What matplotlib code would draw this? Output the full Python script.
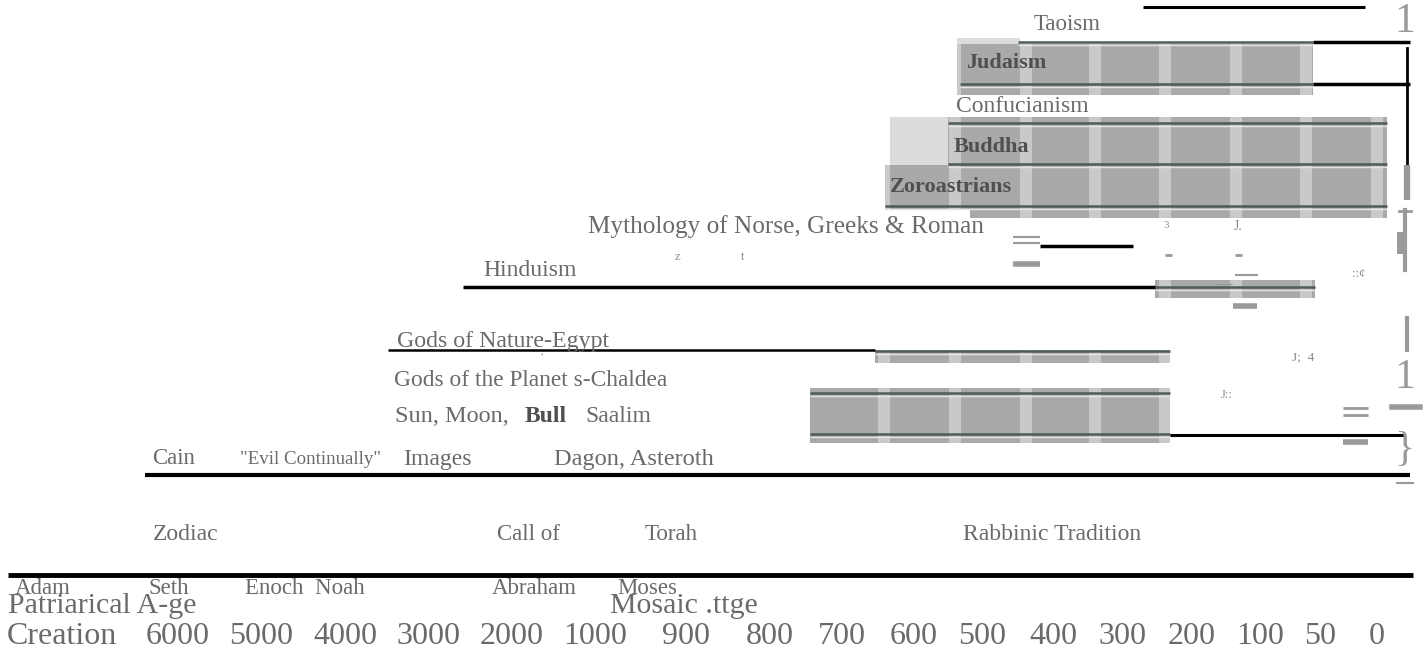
import matplotlib
matplotlib.use("Agg")
import matplotlib.pyplot as plt
from matplotlib.patches import Rectangle

# ---------------- data ----------------
# timeline axis (labels and their place along the timeline, in timeline units)
tick_labels = ["Creation", "6000", "5000", "4000", "3000", "2000", "1000", "900", "800",
               "700", "600", "500", "400", "300", "200", "100", "50", "0"]
tick_pos = [62, 178, 261, 345, 428, 512, 595, 686, 770, 842, 914, 982, 1053, 1122, 1192, 1260, 1320, 1377]

# shaded religion bands: start, end along timeline; top, bottom rows
band_start = [957, 948, 885, 970, 1155, 875, 810]
band_end = [1313, 1387, 1387, 1387, 1315, 1170, 1170]
band_top = [44, 117, 165, 209, 280, 350, 388]
band_bottom = [95, 165, 210, 218, 298, 363, 443]

# pale lead-in parts of bands
pale_start = [957, 890]
pale_end = [1020, 948]
pale_top = [38, 117]
pale_bottom = [47, 165]

# dark rule lines inside bands (start, end, row)
rule_start = [1018, 960, 948, 948, 885, 1155, 875, 810, 810]
rule_end = [1313, 1313, 1387, 1387, 1387, 1315, 1170, 1170, 1170]
rule_y = [42, 84, 123, 164, 206, 287, 351, 393, 434]

# black span lines (start, end, row)
span_start = [1143, 1313, 1313, 1040, 463, 388, 1170, 145, 8]
span_end = [1365, 1410, 1410, 1133, 1155, 875, 1405, 1410, 1413]
span_y = [7, 42, 84, 246, 287, 350, 435, 475, 575]
span_w = [2.2, 2.5, 2.5, 2.5, 2.5, 1.8, 2.2, 3.0, 3.5]

# light vertical stripes inside the bands
stripe_x = [884, 955, 1026, 1095, 1165, 1236, 1306, 1377]

# labels: text, x, y, size, bold
labels = [
    ("Taoism", 1034, 25, 16.5, False),
    ("Judaism", 966, 63, 16, True),
    ("Confucianism", 956, 106, 17, False),
    ("Buddha", 954, 147, 16, True),
    ("Zoroastrians", 890, 187, 16, True),
    ("Mythology of Norse, Greeks & Roman", 588, 227, 18.2, False),
    ("Hinduism", 483, 271, 17, False),
    ("Gods of Nature-Egypt", 397, 341, 17.2, False),
    ("Gods of the Planet s-Chaldea", 394, 380, 16.8, False),
    ("Sun, Moon,", 395, 417, 17.5, False),
    ("Bull", 525, 417, 17, True),
    ("Saalim", 585, 417, 17, False),
    ("Cain", 152, 459, 16.5, False),
    ('"Evil Continually"', 240, 460, 13.6, False),
    ("Images", 403, 459, 17, False),
    ("Dagon, Asteroth", 554, 459, 17.6, False),
    ("Zodiac", 153, 535, 17, False),
    ("Call of", 497, 535, 16.5, False),
    ("Torah", 645, 535, 16.5, False),
    ("Rabbinic Tradition", 963, 535, 17, False),
    ("Adam", 15, 589, 16.5, False),
    ("Seth", 148, 589, 16.5, False),
    ("Enoch  Noah", 245, 589, 16.5, False),
    ("Abraham", 492, 589, 16.5, False),
    ("Moses", 617, 589, 16.5, False),
    ("Patriarical A-ge", 8, 606, 21.5, False),
    ("Mosaic .ttge", 610, 606, 21.5, False),
]

# stray scan marks (text, x, y, size)
marks = [("3", 1163, 225, 8), ("J.", 1234, 227, 10), ("::¢", 1352, 274, 9),
         ("J;  4", 1292, 357, 9.5), ("J::", 1221, 395, 9), ("z", 675, 257, 9),
         ("t", 741, 257, 9), ("'", 540, 358, 9)]

# ---------------- drawing ----------------
W, H = 1426, 655
fig = plt.figure(figsize=(W / 100, H / 100), dpi=100)
ax = fig.add_axes([0, 0, 1, 1])
ax.set_xlim(0, W)
ax.set_ylim(H, 0)
ax.axis("off")

serif = ["Liberation Serif", "DejaVu Serif"]
txt = "#6a6a6a"
band_c = "#a9a9a9"

for s, e, t, b in zip(pale_start, pale_end, pale_top, pale_bottom):
    ax.add_patch(Rectangle((s, t), e - s, b - t, color="#dcdcdc", lw=0, zorder=1))
for s, e, t, b in zip(band_start, band_end, band_top, band_bottom):
    ax.add_patch(Rectangle((s, t), e - s, b - t, color=band_c, lw=0, zorder=1))
    for sx in stripe_x:
        lo, hi = max(s, sx - 6), min(e, sx + 6)
        if hi > lo:
            ax.add_patch(Rectangle((lo, t), hi - lo, b - t, color="#c9c9c9", lw=0, zorder=1.5))

for s, e, y in zip(rule_start, rule_end, rule_y):
    ax.plot([s, e], [y, y], color="#505a5a", lw=1.8, zorder=2, solid_capstyle="butt")
    ax.plot([s, e], [y + 2.5, y + 2.5], color="#e4e4e4", lw=1.0, zorder=2, solid_capstyle="butt")

for s, e, y, w in zip(span_start, span_end, span_y, span_w):
    ax.plot([s, e], [y, y], color="black", lw=w, zorder=3, solid_capstyle="butt")

# right-hand bracket marks
ax.plot([1407, 1407], [48, 165], color="black", lw=2, zorder=3)
ax.plot([1407, 1407], [165, 200], color="#999999", lw=4.5, zorder=3, solid_capstyle="butt")
ax.plot([1405, 1405], [210, 270], color="#9a9a9a", lw=3, zorder=3)
ax.plot([1399, 1411], [211, 211], color="#9a9a9a", lw=2, zorder=3)
ax.plot([1400, 1400], [235, 250], color="#9a9a9a", lw=5, zorder=3)
ax.plot([1407, 1407], [318, 350], color="#9a9a9a", lw=3, zorder=3)
ax.plot([1392, 1420], [407, 407], color="#9a9a9a", lw=4, zorder=3)
ax.plot([1397, 1413], [483, 483], color="#9a9a9a", lw=1.5, zorder=3)
for gx, gy, gt, gs in [(1405, 22, "1", 30), (1405, 378, "1", 30), (1404, 450, "}", 30)]:
    ax.text(gx, gy, gt, fontsize=gs, family=serif, color="#9a9a9a", ha="center", va="center", zorder=4)

# small gray dashes
for x0, x1, y, w in [(1013, 1040, 237, 1.5), (1013, 1040, 243, 1.5), (1013, 1040, 264, 4),
                     (1165, 1172, 255, 2), (1235, 1242, 255, 2), (1235, 1258, 275, 1.5),
                     (1233, 1257, 306, 4), (1343, 1368, 408, 2), (1343, 1368, 415, 2),
                     (1343, 1368, 442, 4), (1214, 1232, 284, 1)]:
    ax.plot([x0, x1], [y, y], color="#9a9a9a", lw=w, zorder=3, solid_capstyle="butt")

for t, x, y, s, bold in labels:
    ax.text(x, y, t, fontsize=s, family=serif, color="#4f4f4f" if bold else txt,
            fontweight="bold" if bold else "normal", ha="left", va="center", zorder=5)

for t, x, y, s in marks:
    ax.text(x, y, t, fontsize=s, family=serif, color="#8a8a8a", ha="left", va="center", zorder=5)

for lab, x in zip(tick_labels, tick_pos):
    ax.text(x, 637, lab, fontsize=23, family=serif, color=txt, ha="center", va="center")

fig.savefig("out.png", dpi=100)
